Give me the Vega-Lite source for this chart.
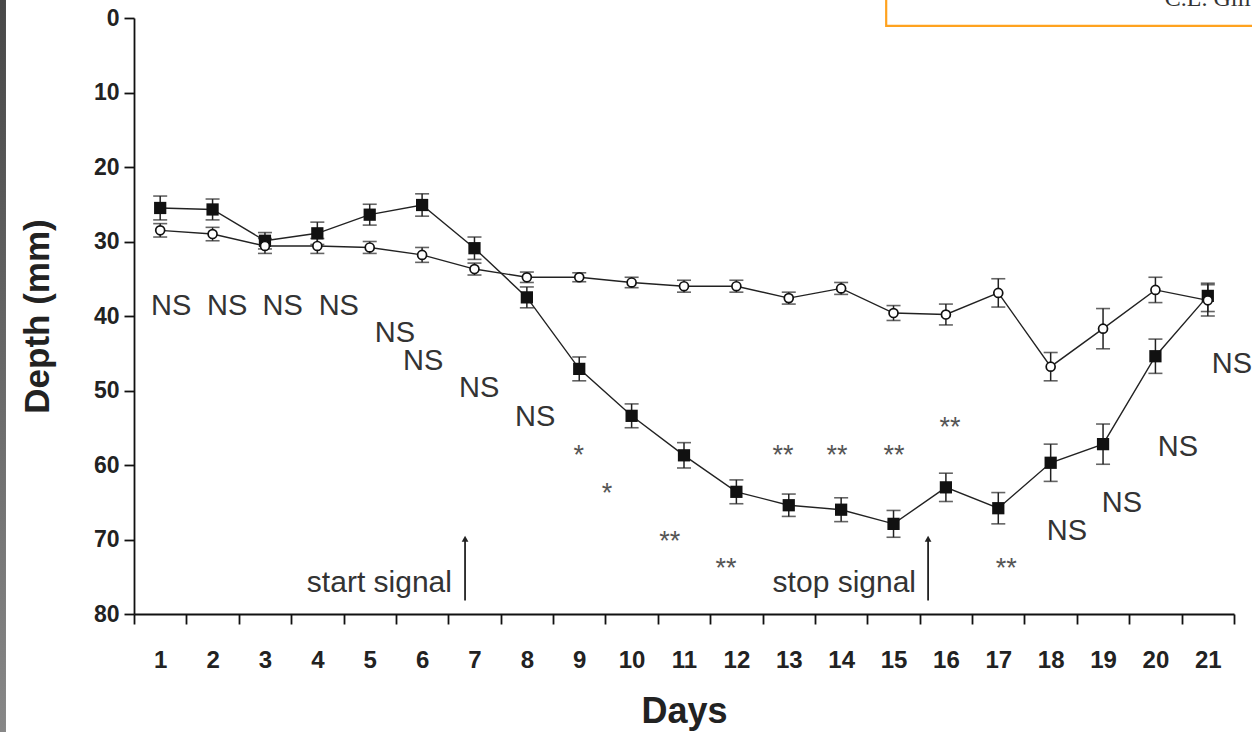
{
  "$schema": "https://vega.github.io/schema/vega-lite/v6.json",
  "width": 1100,
  "height": 596,
  "autosize": {"type": "none"},
  "padding": {"left": 134, "top": 18, "right": 18, "bottom": 118},
  "background": "white",
  "config": {"view": {"stroke": null}, "font": "Liberation Sans"},
  "datasets": {
    "series": [
      {"day": 1, "group": "treated", "depth": 25.5, "lo": 23.9, "hi": 27.1},
      {"day": 2, "group": "treated", "depth": 25.7, "lo": 24.3, "hi": 27.1},
      {"day": 3, "group": "treated", "depth": 29.9, "lo": 28.8, "hi": 31.0},
      {"day": 4, "group": "treated", "depth": 28.9, "lo": 27.4, "hi": 30.4},
      {"day": 5, "group": "treated", "depth": 26.4, "lo": 25.0, "hi": 27.8},
      {"day": 6, "group": "treated", "depth": 25.1, "lo": 23.6, "hi": 26.6},
      {"day": 7, "group": "treated", "depth": 30.9, "lo": 29.4, "hi": 32.4},
      {"day": 8, "group": "treated", "depth": 37.5, "lo": 36.1, "hi": 38.9},
      {"day": 9, "group": "treated", "depth": 47.1, "lo": 45.5, "hi": 48.7},
      {"day": 10, "group": "treated", "depth": 53.4, "lo": 51.8, "hi": 55.0},
      {"day": 11, "group": "treated", "depth": 58.7, "lo": 57.0, "hi": 60.4},
      {"day": 12, "group": "treated", "depth": 63.6, "lo": 62.0, "hi": 65.2},
      {"day": 13, "group": "treated", "depth": 65.4, "lo": 63.9, "hi": 66.9},
      {"day": 14, "group": "treated", "depth": 66.0, "lo": 64.4, "hi": 67.6},
      {"day": 15, "group": "treated", "depth": 67.9, "lo": 66.1, "hi": 69.7},
      {"day": 16, "group": "treated", "depth": 63.0, "lo": 61.1, "hi": 64.9},
      {"day": 17, "group": "treated", "depth": 65.8, "lo": 63.7, "hi": 67.9},
      {"day": 18, "group": "treated", "depth": 59.7, "lo": 57.2, "hi": 62.2},
      {"day": 19, "group": "treated", "depth": 57.2, "lo": 54.5, "hi": 59.9},
      {"day": 20, "group": "treated", "depth": 45.4, "lo": 43.1, "hi": 47.7},
      {"day": 21, "group": "treated", "depth": 37.3, "lo": 35.6, "hi": 39.4},
      {"day": 1, "group": "control", "depth": 28.5, "lo": 27.6, "hi": 29.4},
      {"day": 2, "group": "control", "depth": 29.0, "lo": 28.1, "hi": 29.9},
      {"day": 3, "group": "control", "depth": 30.6, "lo": 29.6, "hi": 31.6},
      {"day": 4, "group": "control", "depth": 30.6, "lo": 29.6, "hi": 31.6},
      {"day": 5, "group": "control", "depth": 30.8, "lo": 30.0, "hi": 31.6},
      {"day": 6, "group": "control", "depth": 31.8, "lo": 30.8, "hi": 32.8},
      {"day": 7, "group": "control", "depth": 33.7, "lo": 32.9, "hi": 34.5},
      {"day": 8, "group": "control", "depth": 34.8, "lo": 34.1, "hi": 35.5},
      {"day": 9, "group": "control", "depth": 34.8, "lo": 34.2, "hi": 35.4},
      {"day": 10, "group": "control", "depth": 35.5, "lo": 34.8, "hi": 36.2},
      {"day": 11, "group": "control", "depth": 36.0, "lo": 35.2, "hi": 36.8},
      {"day": 12, "group": "control", "depth": 36.0, "lo": 35.2, "hi": 36.8},
      {"day": 13, "group": "control", "depth": 37.6, "lo": 36.8, "hi": 38.4},
      {"day": 14, "group": "control", "depth": 36.3, "lo": 35.5, "hi": 37.1},
      {"day": 15, "group": "control", "depth": 39.6, "lo": 38.6, "hi": 40.6},
      {"day": 16, "group": "control", "depth": 39.8, "lo": 38.4, "hi": 41.2},
      {"day": 17, "group": "control", "depth": 36.9, "lo": 35.0, "hi": 38.8},
      {"day": 18, "group": "control", "depth": 46.8, "lo": 44.9, "hi": 48.7},
      {"day": 19, "group": "control", "depth": 41.7, "lo": 39.0, "hi": 44.4},
      {"day": 20, "group": "control", "depth": 36.5, "lo": 34.8, "hi": 38.2},
      {"day": 21, "group": "control", "depth": 37.9, "lo": 35.8, "hi": 40.0}
    ],
    "ns": [
      {"day": 1.21, "depth": 38.6, "text": "NS"},
      {"day": 2.28, "depth": 38.6, "text": "NS"},
      {"day": 3.34, "depth": 38.6, "text": "NS"},
      {"day": 4.41, "depth": 38.6, "text": "NS"},
      {"day": 5.48, "depth": 42.3, "text": "NS"},
      {"day": 6.02, "depth": 46.1, "text": "NS"},
      {"day": 7.09, "depth": 49.6, "text": "NS"},
      {"day": 8.16, "depth": 53.5, "text": "NS"},
      {"day": 18.31, "depth": 68.8, "text": "NS"},
      {"day": 19.36, "depth": 65.1, "text": "NS"},
      {"day": 20.43, "depth": 57.6, "text": "NS"},
      {"day": 21.46, "depth": 46.5, "text": "NS"}
    ],
    "stars": [
      {"day": 8.99, "depth": 58.8, "text": "*"},
      {"day": 9.53, "depth": 63.9, "text": "*"},
      {"day": 10.73, "depth": 70.3, "text": "**"},
      {"day": 11.80, "depth": 73.9, "text": "**"},
      {"day": 12.89, "depth": 58.8, "text": "**"},
      {"day": 13.92, "depth": 58.8, "text": "**"},
      {"day": 15.01, "depth": 58.8, "text": "**"},
      {"day": 16.08, "depth": 55.1, "text": "**"},
      {"day": 17.15, "depth": 73.9, "text": "**"}
    ],
    "signals": [
      {"day": 6.57, "depth": 75.8, "text": "start signal"},
      {"day": 15.43, "depth": 75.8, "text": "stop signal"}
    ],
    "arrows": [
      {"day": 6.82, "depth": 69.9, "depth2": 78.2},
      {"day": 15.66, "depth": 69.9, "depth2": 78.2}
    ],
    "box": [
      {"day": 14.86, "day2": 23, "depth": -5, "depth2": 1.07}
    ],
    "boxtext": [
      {"day": 20.18, "depth": -1.6, "text": "C.L. Gill"}
    ],
    "strip": [
      {"day": -2.3, "day2": -1.944, "depth": -5, "depth2": 100}
    ]
  },
  "encoding": {
    "x": {
      "field": "day", "type": "quantitative",
      "scale": {"domain": [0.5, 21.5], "nice": false, "zero": false},
      "axis": {
        "title": "Days",
        "values": [0.5, 1, 1.5, 2, 2.5, 3, 3.5, 4, 4.5, 5, 5.5, 6, 6.5, 7, 7.5, 8, 8.5, 9, 9.5, 10, 10.5, 11, 11.5, 12, 12.5, 13, 13.5, 14, 14.5, 15, 15.5, 16, 16.5, 17, 17.5, 18, 18.5, 19, 19.5, 20, 20.5, 21, 21.5],
        "labelExpr": "datum.value % 1 === 0 ? '' + datum.value : ''",
        "labelOverlap": false,
        "labelFlush": false,
        "grid": false,
        "domainColor": "#111", "domainWidth": 1.8,
        "tickColor": "#111", "tickWidth": 1.8, "tickSize": 10,
        "tickOpacity": {"condition": {"test": "datum.value % 1 === 0", "value": 0}, "value": 1},
        "labelFont": "Liberation Sans", "labelFontWeight": "bold", "labelFontSize": 24, "labelColor": "#222",
        "labelPadding": 24,
        "titleFont": "Liberation Sans", "titleFontWeight": "bold", "titleFontSize": 36, "titleColor": "#222",
        "titlePadding": 22
      }
    },
    "y": {
      "field": "depth", "type": "quantitative",
      "scale": {"domain": [0, 80], "reverse": true, "nice": false, "zero": false},
      "axis": {
        "title": "Depth (mm)",
        "values": [0, 10, 20, 30, 40, 50, 60, 70, 80],
        "grid": false,
        "domainColor": "#111", "domainWidth": 1.8,
        "tickColor": "#111", "tickWidth": 1.8, "tickSize": 10,
        "labelFont": "Liberation Sans", "labelFontWeight": "bold", "labelFontSize": 23, "labelColor": "#222",
        "labelPadding": 5,
        "titleFont": "Liberation Sans", "titleFontWeight": "bold", "titleFontSize": 35, "titleColor": "#222",
        "titlePadding": 38
      }
    }
  },
  "layer": [
    {
      "data": {"name": "strip"},
      "mark": {"type": "rect", "clip": false, "color": {"gradient": "linear", "x1": 0, "y1": 0, "x2": 0, "y2": 1, "stops": [{"offset": 0, "color": "#464646"}, {"offset": 1, "color": "#8a8a8a"}]}},
      "encoding": {"x2": {"field": "day2"}, "y2": {"field": "depth2"}}
    },
    {
      "data": {"name": "box"},
      "mark": {"type": "rect", "clip": false, "fill": "white", "stroke": "#FFA21F", "strokeWidth": 2.2},
      "encoding": {"x2": {"field": "day2"}, "y2": {"field": "depth2"}}
    },
    {
      "data": {"name": "boxtext"},
      "mark": {"type": "text", "font": "Liberation Serif", "fontSize": 24, "color": "#333", "align": "left", "baseline": "alphabetic"},
      "encoding": {"text": {"field": "text"}}
    },
    {
      "data": {"name": "series"},
      "mark": {"type": "errorbar", "ticks": {"size": 14, "thickness": 1.6, "color": "#222"}, "rule": {"strokeWidth": 1.5, "color": "#222"}},
      "encoding": {
        "y": {
          "field": "lo", "type": "quantitative",
          "scale": {"domain": [0, 80], "reverse": true, "nice": false, "zero": false},
          "axis": {
            "title": "Depth (mm)",
            "values": [0, 10, 20, 30, 40, 50, 60, 70, 80],
            "grid": false,
            "domainColor": "#111", "domainWidth": 1.8,
            "tickColor": "#111", "tickWidth": 1.8, "tickSize": 10,
            "labelFont": "Liberation Sans", "labelFontWeight": "bold", "labelFontSize": 23, "labelColor": "#222",
            "labelPadding": 5,
            "titleFont": "Liberation Sans", "titleFontWeight": "bold", "titleFontSize": 35, "titleColor": "#222",
            "titlePadding": 38
          }
        },
        "y2": {"field": "hi"},
        "detail": {"field": "group"}
      }
    },
    {
      "data": {"name": "series"},
      "mark": {"type": "line", "color": "#222", "strokeWidth": 1.4},
      "encoding": {"detail": {"field": "group"}}
    },
    {
      "data": {"name": "series"},
      "transform": [{"filter": "datum.group === 'treated'"}],
      "mark": {"type": "point", "shape": "square", "filled": true, "size": 150, "color": "#111", "opacity": 1}
    },
    {
      "data": {"name": "series"},
      "transform": [{"filter": "datum.group === 'control'"}],
      "mark": {"type": "point", "shape": "circle", "filled": true, "fill": "white", "stroke": "#111", "strokeWidth": 1.7, "size": 80, "opacity": 1}
    },
    {
      "data": {"name": "arrows"},
      "mark": {"type": "rule", "color": "#222", "strokeWidth": 1.8},
      "encoding": {"y2": {"field": "depth2"}}
    },
    {
      "data": {"name": "arrows"},
      "mark": {"type": "point", "shape": "triangle-up", "filled": true, "size": 45, "color": "#222", "opacity": 1}
    },
    {
      "data": {"name": "ns"},
      "mark": {"type": "text", "font": "Liberation Sans", "fontSize": 29, "color": "#333", "align": "center", "baseline": "middle"},
      "encoding": {"text": {"field": "text"}}
    },
    {
      "data": {"name": "stars"},
      "mark": {"type": "text", "font": "Liberation Sans", "fontSize": 27, "color": "#555", "align": "center", "baseline": "middle"},
      "encoding": {"text": {"field": "text"}}
    },
    {
      "data": {"name": "signals"},
      "mark": {"type": "text", "font": "Liberation Sans", "fontSize": 30, "color": "#333", "align": "right", "baseline": "middle"},
      "encoding": {"text": {"field": "text"}}
    }
  ]
}
